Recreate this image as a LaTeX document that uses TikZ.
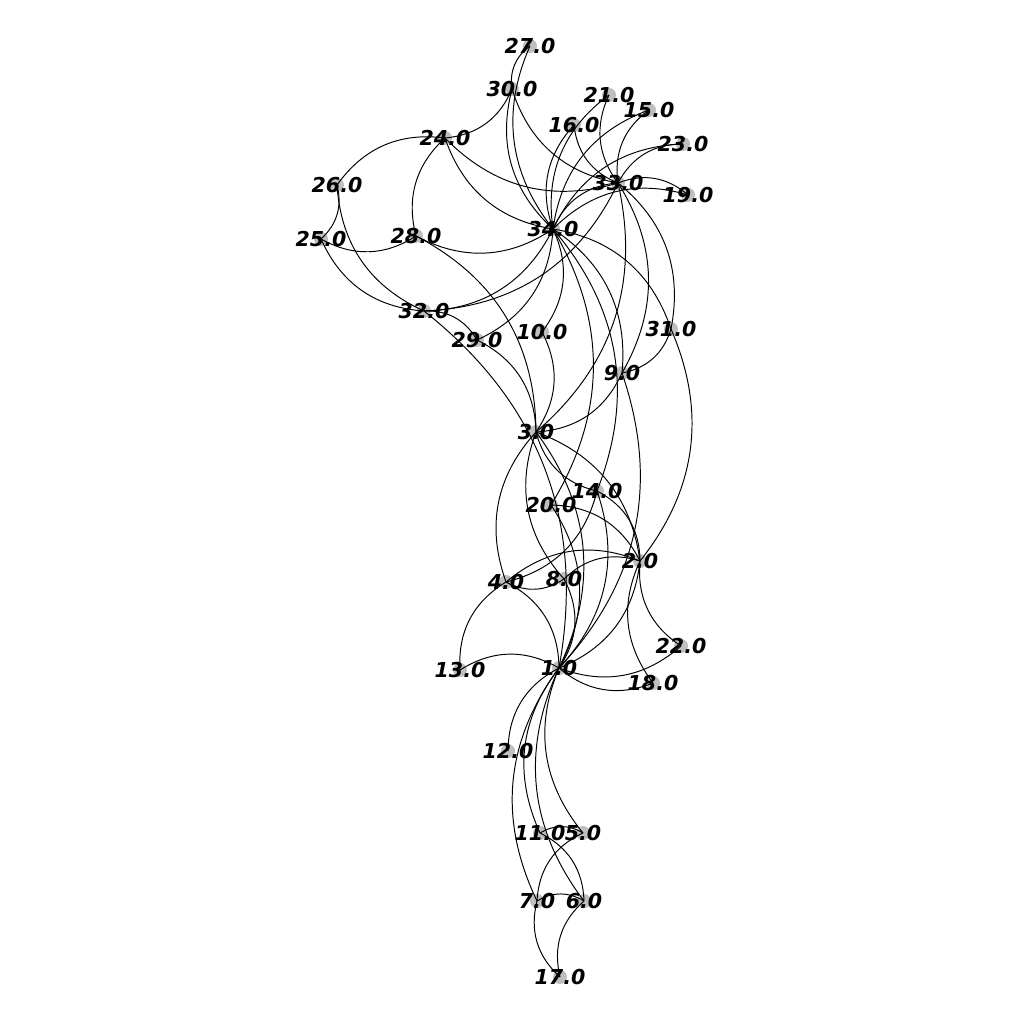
\documentclass[tikz,border=0pt]{standalone}
\usepackage{fontspec}
\setmainfont{DejaVu Sans}
\usetikzlibrary{calc}
\begin{document}
\begin{tikzpicture}[x=0.02cm,y=-0.02cm,
  dot/.style={circle,fill=black!25,draw=none,minimum size=0.28cm,inner sep=0pt},
  lab/.style={font=\fontsize{11.7}{12}\selectfont\bfseries\itshape,inner sep=0pt,text=black},
  edge/.style={line width=0.55pt,black}]
\useasboundingbox (0,0) rectangle (1024,1024);
\foreach \i/\x/\y in {1/559/668,2/640/561,3/536/432,4/506/582,5/583/833,6/584/901,7/537/901,
  8/564/579,9/622/373,10/542/332,11/540/833,12/508/751,13/460/670,14/597/491,15/649/110,
  16/574/125,17/560/977,18/653/683,19/688/195,20/551/505,21/609/95,22/681/646,23/683/144,
  24/445/138,25/321/239,26/337/185,27/530/46,28/416/236,29/477/340,30/512/89,31/671/329,
  32/424/311,33/618/183,34/553/229}
  \node[dot] (n\i) at (\x,\y) {};
\foreach \a/\b in {1/2,1/3,1/4,1/5,1/6,1/7,1/8,1/9,1/11,1/12,1/13,1/14,1/18,1/20,1/22,1/32,
  2/3,2/4,2/8,2/14,2/18,2/20,2/22,2/31,
  3/4,3/8,3/9,3/10,3/14,3/28,3/29,3/33,
  4/8,4/13,4/14,5/7,5/11,6/7,6/11,6/17,7/17,9/31,9/33,9/34,
  10/34,14/34,15/33,15/34,16/33,16/34,19/33,19/34,20/34,21/33,21/34,23/33,23/34,
  24/26,24/28,24/30,24/33,24/34,
  25/26,25/28,25/32,26/32,27/30,27/34,28/34,29/32,29/34,30/33,30/34,31/33,31/34,32/33,32/34,33/34}
  \draw[edge] (n\a.center) .. controls ($(n\a.center)!0.38873!-30.96:(n\b.center)$)
     and ($(n\b.center)!0.38873!30.96:(n\a.center)$) .. (n\b.center);
\foreach \i in {1,...,34}
  \node[lab] (l\i) at (n\i.center) {\i.0};
\end{tikzpicture}
\end{document}
